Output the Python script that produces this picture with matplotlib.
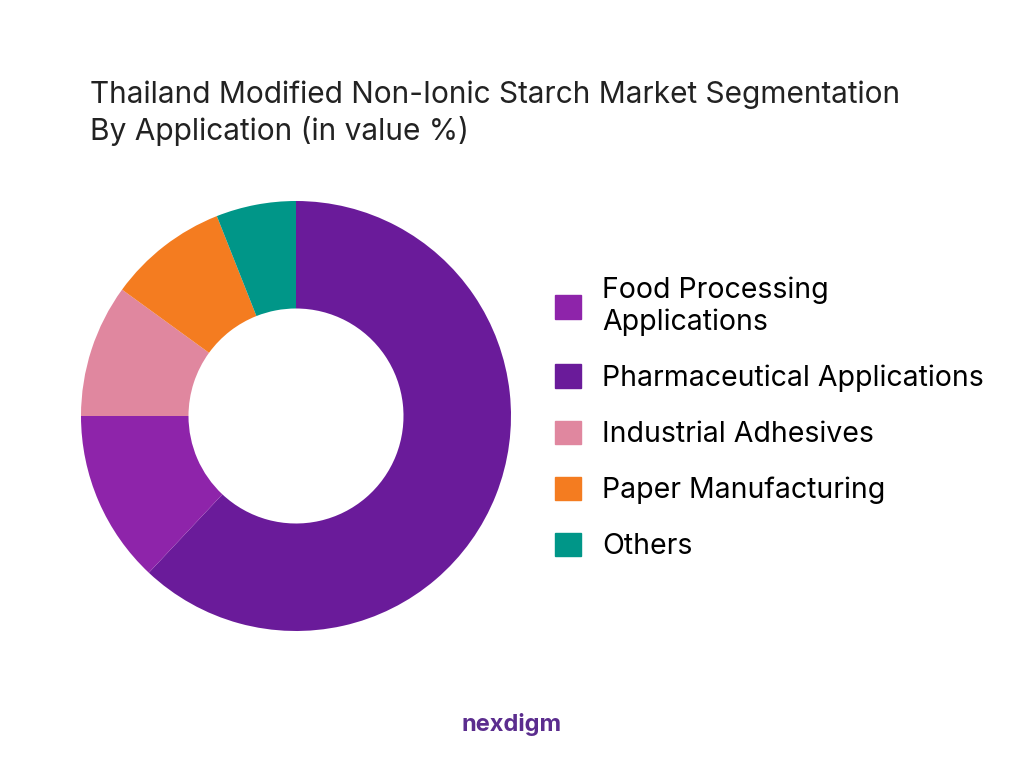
import matplotlib.pyplot as plt
from matplotlib.patches import Patch

labels = ['Food Processing\nApplications', 'Pharmaceutical Applications',
          'Industrial Adhesives', 'Paper Manufacturing', 'Others']
values = [13, 62, 10, 9, 6]
colors = ['#8E24AA', '#6A1B9A', '#E0879F', '#F47C20', '#009688']

# drawing order clockwise from top
draw_order = [1, 0, 2, 3, 4]

plt.rcParams['font.family'] = ['Inter', 'DejaVu Sans']
fig = plt.figure(figsize=(10.24, 7.68), dpi=100)
# center (296, 416), radius 215 px
ax = fig.add_axes([81 / 1024, 1 - 631 / 768, 430 / 1024, 430 / 768])
ax.pie([values[i] for i in draw_order], colors=[colors[i] for i in draw_order],
       startangle=90, counterclock=False,
       wedgeprops=dict(width=0.5, edgecolor='none'), radius=1.0)
ax.set_xlim(-1, 1)
ax.set_ylim(-1, 1)
ax.set_aspect('equal')

fig.text(0.088, 0.895, 'Thailand Modified Non-Ionic Starch Market Segmentation\nBy Application (in value %)',
         fontsize=21.5, color='#222222', va='top', linespacing=1.3)

handles = [Patch(color=c) for c in colors]
fig.legend(handles, labels, loc='center left', bbox_to_anchor=(0.517, 0.455),
           frameon=False, fontsize=20.5, handlelength=0.9, handleheight=0.9,
           labelspacing=1.0, handletextpad=0.75)

fig.text(0.5, 0.057, 'nexdigm', fontsize=17, color='#5B2D8E', fontweight='bold',
         ha='center', va='center')
fig.savefig('out.png', dpi=100)
